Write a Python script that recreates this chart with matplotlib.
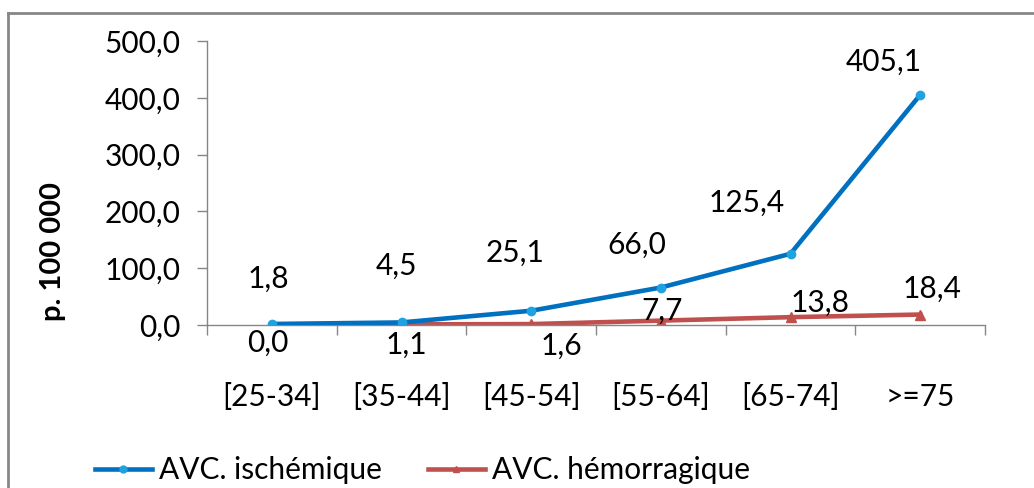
import matplotlib
matplotlib.use("Agg")
import matplotlib.pyplot as plt
from matplotlib.lines import Line2D

categories = ["[25-34]", "[35-44]", "[45-54]", "[55-64]", "[65-74]", ">=75"]
ischemique = [1.8, 4.5, 25.1, 66.0, 125.4, 405.1]
hemorragique = [0.0, 1.1, 1.6, 7.7, 13.8, 18.4]
ischemique_labels = ["1,8", "4,5", "25,1", "66,0", "125,4", "405,1"]
hemorragique_labels = ["0,0", "1,1", "1,6", "7,7", "13,8", "18,4"]
yticks = [0, 100, 200, 300, 400, 500]
ytick_labels = ["0,0", "100,0", "200,0", "300,0", "400,0", "500,0"]

# label offsets in pixels (layout only)
isc_off = [(-3, 45), (-5, 57), (-16, 58), (-24, 43), (-44, 51), (-36, 33)]
hem_off = [(-4, -18), (5, -20), (30, -22), (1, 10), (30, 14), (12, 26)]

plt.rcParams['font.family'] = ['Lato', 'DejaVu Sans']
FS = 21.5

W, H = 1034, 488
fig = plt.figure(figsize=(W / 100, H / 100), dpi=100)
ax = fig.add_axes([207 / W, 1 - 325 / H, (985 - 207) / W, (325 - 41) / H])

x = list(range(len(categories)))
blue = '#0070C0'
red = '#C0504D'
ax.plot(x, ischemique, color=blue, lw=3.3, marker='o', ms=6,
        mfc='#1FA2E0', mec='#1FA2E0', zorder=3, solid_capstyle='round')
ax.plot(x, hemorragique, color=red, lw=3.3, marker='^', ms=7,
        mfc=red, mec=red, zorder=2)

for xi, v, lab, off in zip(x, ischemique, ischemique_labels, isc_off):
    ax.annotate(lab, (xi, v), xytext=off, textcoords='offset pixels',
                ha='center', va='center', fontsize=FS, color='black')
for xi, v, lab, off in zip(x, hemorragique, hemorragique_labels, hem_off):
    ax.annotate(lab, (xi, v), xytext=off, textcoords='offset pixels',
                ha='center', va='center', fontsize=FS, color='black')

ax.set_xlim(-0.5, len(categories) - 0.5)
ax.set_ylim(0, 500)
ax.set_yticks(yticks)
ax.set_yticklabels(ytick_labels, fontsize=FS)

ax.set_xticks([i - 0.5 for i in range(len(categories) + 1)])
ax.set_xticklabels([])
ax.set_xticks(x, minor=True)
ax.set_xticklabels(categories, minor=True, fontsize=FS)
ax.tick_params(axis='x', which='minor', length=0, pad=42)
ax.tick_params(axis='x', which='major', length=7.2, width=1, color='#868686')
ax.tick_params(axis='y', length=7.2, width=1, color='#868686', pad=12)

for s in ['top', 'right']:
    ax.spines[s].set_visible(False)
for s in ['left', 'bottom']:
    ax.spines[s].set_color('#868686')
    ax.spines[s].set_linewidth(1)

fig.text(53 / W, 1 - 252 / H, "p. 100 000", rotation=90, ha='center',
         va='center', fontsize=21, fontweight='bold')

handles = [Line2D([], [], color=blue, lw=3.3, marker='o', ms=5, mfc='#1FA2E0', mec='#1FA2E0'),
           Line2D([], [], color=red, lw=3.3, marker='^', ms=5, mfc=red, mec=red)]
fig.legend(handles, ["AVC. ischémique", "AVC. hémorragique"], loc='center left',
           bbox_to_anchor=(95 / W, 1 - 470 / H), ncol=2, frameon=False,
           fontsize=FS, handlelength=1.9, handletextpad=0.24, columnspacing=1.55,
           borderpad=0, borderaxespad=0)

fig.add_artist(Line2D([8 / W, 1], [1 - 13 / H, 1 - 13 / H], color='#878787', lw=2,
                      transform=fig.transFigure))
fig.add_artist(Line2D([8 / W, 8 / W], [0, 1 - 13 / H], color='#878787', lw=2,
                      transform=fig.transFigure))

fig.savefig("out.png", dpi=100)
